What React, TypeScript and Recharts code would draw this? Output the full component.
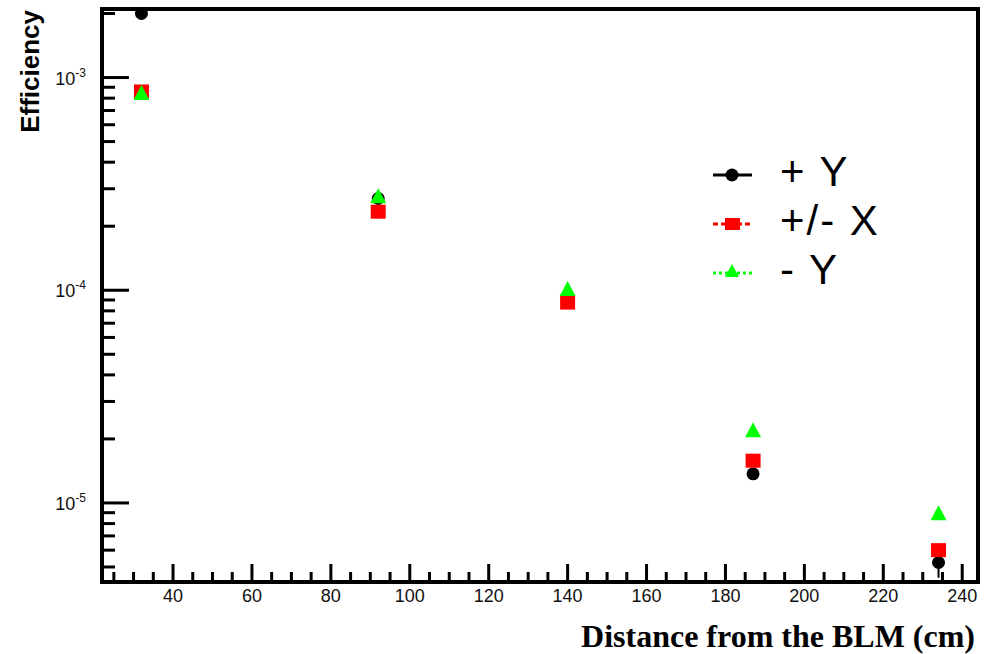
import React from "react";
import {
  ScatterChart,
  Scatter,
  XAxis,
  YAxis,
  ReferenceArea,
  Legend,
  ErrorBar,
  Label,
} from "recharts";

// distance from the BLM (cm)
const distances = [32, 92, 140, 187, 234];
// efficiency per orientation
const plusY = [2.0e-3, 2.7e-4, 9.1e-5, 1.37e-5, 5.25e-6];
const plusYErr = [0, 0, 0, 0, 0.8e-6];
const plusMinusX = [8.6e-4, 2.34e-4, 8.75e-5, 1.58e-5, 6.0e-6];
const minusY = [8.5e-4, 2.78e-4, 1.02e-4, 2.21e-5, 9.0e-6];

const xTicks = [
  25, 30, 35, 40, 45, 50, 55, 60, 65, 70, 75, 80, 85, 90, 95, 100, 105, 110,
  115, 120, 125, 130, 135, 140, 145, 150, 155, 160, 165, 170, 175, 180, 185,
  190, 195, 200, 205, 210, 215, 220, 225, 230, 235, 240,
];
const xLabels = [40, 60, 80, 100, 120, 140, 160, 180, 200, 220, 240];
const yMajor = [1e-5, 1e-4, 1e-3];
const yMinor = [
  5e-6, 6e-6, 7e-6, 8e-6, 9e-6,
  2e-5, 3e-5, 4e-5, 5e-5, 6e-5, 7e-5, 8e-5, 9e-5,
  2e-4, 3e-4, 4e-4, 5e-4, 6e-4, 7e-4, 8e-4, 9e-4,
  2e-3,
];
const legendLabels = ["+ Y", "+/- X", "- Y"];

const X_MIN = 22;
const X_MAX = 244;
const Y_MIN = 4.25e-6;
const Y_MAX = 2.1e-3;

const sans = "'Liberation Sans', Arial, sans-serif";

const plusYData = distances.map((x, i) => ({ x, y: plusY[i], err: plusYErr[i] }));
const plusMinusXData = distances.map((x, i) => ({ x, y: plusMinusX[i] }));
const minusYData = distances.map((x, i) => ({ x, y: minusY[i] }));

const circle = (p: any) => <circle cx={p.cx} cy={p.cy} r={6.5} fill="#000" />;
const square = (p: any) => (
  <rect x={p.cx - 7.5} y={p.cy - 7} width={15} height={14} fill="#ff0000" />
);
const triangle = (p: any) => (
  <path
    d={`M${p.cx},${p.cy - 7.5} L${p.cx + 8},${p.cy + 7.5} L${p.cx - 8},${p.cy + 7.5} Z`}
    fill="#00ff00"
  />
);

const XTick = (props: any) => {
  const { x, y, payload } = props;
  const major = xLabels.includes(payload.value);
  return (
    <g>
      <line x1={x} y1={y} x2={x} y2={y - (major ? 18 : 10)} stroke="#000" strokeWidth={3} />
      {major && (
        <text x={x} y={y + 20} textAnchor="middle" fontFamily={sans} fontSize={18} fill="#111">
          {payload.value}
        </text>
      )}
    </g>
  );
};

const YTick = (props: any) => {
  const { x, y, payload } = props;
  const major = yMajor.includes(payload.value);
  const exp = Math.round(Math.log10(payload.value));
  return (
    <g>
      <line x1={x} y1={y} x2={x + (major ? 27 : 13)} y2={y} stroke="#000" strokeWidth={3} />
      {major && (
        <text x={86} y={y + 7} textAnchor="end" fontFamily={sans} fontSize={18} fill="#111">
          10
          <tspan dy={-8} fontSize={12}>
            {exp}
          </tspan>
        </text>
      )}
    </g>
  );
};

// legend box sits at left 700, top 130 of the chart
const LegendBox = () => (
  <svg width={220} height={180} style={{ overflow: "visible" }}>
    {legendLabels.map((label, i) => {
      const cy = 45 + 49 * i;
      return (
        <g key={label}>
          {i === 0 && (
            <>
              <line x1={13} y1={cy} x2={52} y2={cy} stroke="#000" strokeWidth={3} />
              <circle cx={32} cy={cy} r={6.5} fill="#000" />
            </>
          )}
          {i === 1 && (
            <>
              <line x1={13} y1={cy} x2={52} y2={cy} stroke="#ff0000" strokeWidth={3} strokeDasharray="5 3" />
              <rect x={25} y={cy - 6} width={15} height={12} fill="#ff0000" />
            </>
          )}
          {i === 2 && (
            <>
              <line x1={13} y1={cy} x2={52} y2={cy} stroke="#00ff00" strokeWidth={3} strokeDasharray="3 3" />
              <path d={`M32,${cy - 9} L39,${cy + 4} L25,${cy + 4} Z`} fill="#00ff00" />
            </>
          )}
          <text
            x={80}
            y={cy + 11}
            fontFamily={sans}
            fontSize={42}
            letterSpacing={2}
            fill="#000"
            style={{ whiteSpace: "pre" }}
          >
            {label}
          </text>
        </g>
      );
    })}
  </svg>
);

export default function App() {
  return (
    <div style={{ position: "absolute", left: 0, top: 0, width: 992, height: 654, background: "#fff" }}>
      <ScatterChart width={992} height={654} margin={{ top: 9, right: 14, bottom: 2, left: 42 }}>
        <XAxis
          type="number"
          dataKey="x"
          domain={[X_MIN, X_MAX]}
          allowDataOverflow
          ticks={xTicks}
          interval={0}
          tick={XTick}
          tickSize={0}
          tickMargin={0}
          tickLine={false}
          axisLine={false}
          height={70}
        >
          <Label
            content={() => (
              <text
                x={975}
                y={647}
                textAnchor="end"
                fontFamily="'Liberation Serif', 'Times New Roman', serif"
                fontWeight="bold"
                fontSize={32}
                fill="#000"
              >
                Distance from the BLM (cm)
              </text>
            )}
          />
        </XAxis>
        <YAxis
          type="number"
          dataKey="y"
          scale="log"
          domain={[Y_MIN, Y_MAX]}
          allowDataOverflow
          ticks={[...yMinor, ...yMajor].sort((a, b) => a - b)}
          interval={0}
          tick={YTick}
          tickSize={0}
          tickMargin={0}
          tickLine={false}
          axisLine={false}
          width={60}
        >
          <Label
            content={() => (
              <text
                x={39}
                y={10}
                transform="rotate(-90, 39, 10)"
                textAnchor="end"
                fontFamily={sans}
                fontWeight="bold"
                fontSize={26}
                fill="#000"
              >
                Efficiency
              </text>
            )}
          />
        </YAxis>
        <Scatter data={plusYData} shape={circle} isAnimationActive={false}>
          <ErrorBar dataKey="err" direction="y" width={0} stroke="#000" strokeWidth={2} />
        </Scatter>
        <Scatter data={plusMinusXData} shape={square} isAnimationActive={false} />
        <Scatter data={minusYData} shape={triangle} isAnimationActive={false} />
        <ReferenceArea
          x1={X_MIN}
          x2={X_MAX}
          y1={Y_MIN}
          y2={Y_MAX}
          fill="none"
          fillOpacity={0}
          stroke="#000"
          strokeWidth={4}
          zIndex={700}
        />
        <Legend
          layout="horizontal"
          verticalAlign="middle"
          align="center"
          wrapperStyle={{ left: 700, top: 130, width: 220, height: 180 }}
          content={() => <LegendBox />}
        />
      </ScatterChart>
    </div>
  );
}
